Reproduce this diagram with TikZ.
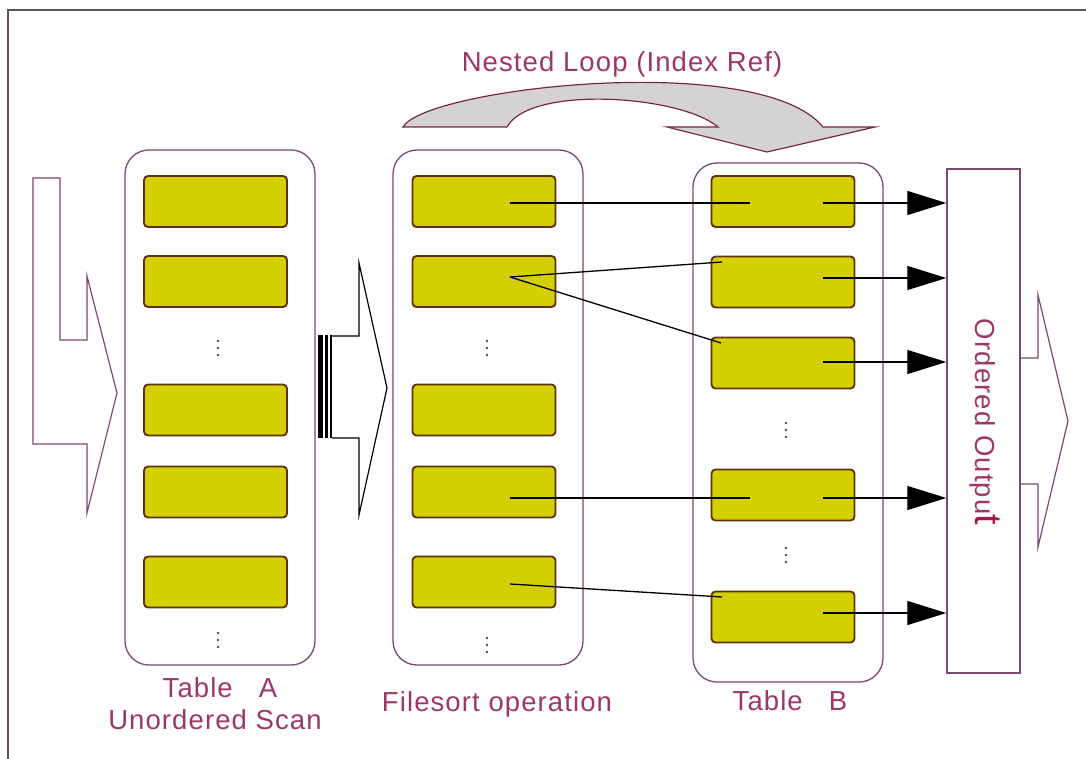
\documentclass[tikz,border=0pt]{standalone}
\usepackage{fontspec}
\setmainfont{Liberation Sans}[LetterSpace=4]
\usetikzlibrary{arrows.meta}
\definecolor{txt}{RGB}{155,55,105}
\definecolor{cont}{RGB}{125,70,115}
\definecolor{framecol}{RGB}{100,80,85}
\definecolor{yfill}{RGB}{212,208,0}
\definecolor{ybord}{RGB}{95,50,10}
\definecolor{loopfill}{RGB}{212,210,212}
\definecolor{loopbord}{RGB}{120,40,70}
\definecolor{tcol}{RGB}{170,20,80}
\begin{document}
\begin{tikzpicture}[x=1pt,y=-1pt,
  container/.style={draw=cont, line width=1.3pt, rounded corners=24pt, inner sep=0pt},
  ybox/.style={draw=ybord, fill=yfill, line width=1.9pt, rounded corners=4pt,
    minimum width=143pt, minimum height=51pt, inner sep=0pt},
  lbl/.style={text=txt, font=\fontsize{27.5}{30}\selectfont, inner sep=0pt},
  dotmark/.style={fill=black!70, draw=none},
  link/.style={draw=black, line width=1.3pt},
  outarrow/.style={link, -{Triangle[length=39pt,width=24pt]}},
  bigarrow/.style={line width=1.2pt, line join=miter}
]
\useasboundingbox (0,0) rectangle (1086,759);
% frame
\draw[framecol, line width=2.2pt] (8,759) -- (8,10) -- (1086,10);

% input arrow
\draw[bigarrow, draw=cont] (33,178) -- (60,178) -- (60,340) -- (87,340) -- (87,276)
  -- (117,393) -- (87,513) -- (87,444) -- (33,444) -- cycle;

% containers
\node[container, minimum width=190pt, minimum height=515pt] (ta) at (220,407.5) {};
\node[container, minimum width=190pt, minimum height=515pt] (fs) at (488,407.5) {};
\node[container, minimum width=190pt, minimum height=519pt] (tb) at (788,422.5) {};

% middle arrow
\fill[black] (318,335) rectangle (322.5,438);
\fill[black] (324.5,335) rectangle (327.5,438);
\fill[black] (329.5,335) rectangle (332,438);
\draw[bigarrow, draw=black] (332,336) -- (359,336) -- (359,263) -- (387,388)
  -- (359,515) -- (359,438) -- (332,438);

% Table A boxes
\node[ybox] (a1) at (215.5,201.5) {};
\node[ybox] (a2) at (215.5,281.5) {};
\node[ybox] (a3) at (215.5,410) {};
\node[ybox] (a4) at (215.5,492) {};
\node[ybox] (a5) at (215.5,582) {};
\foreach \yy in {341,348,355} \fill[dotmark] (218,\yy) circle (1.4);
\foreach \yy in {633,640,647} \fill[dotmark] (218,\yy) circle (1.4);

% Filesort boxes
\node[ybox] (f1) at (484,201.5) {};
\node[ybox] (f2) at (484,281.5) {};
\node[ybox] (f3) at (484,410) {};
\node[ybox] (f4) at (484,492) {};
\node[ybox] (f5) at (484,582) {};
\foreach \yy in {341,348,355} \fill[dotmark] (487,\yy) circle (1.4);
\foreach \yy in {638,645,652} \fill[dotmark] (487,\yy) circle (1.4);

% Table B boxes
\node[ybox] (b1) at (783,201.5) {};
\node[ybox] (b2) at (783,282) {};
\node[ybox] (b3) at (783,363) {};
\node[ybox] (b4) at (783,495) {};
\node[ybox] (b5) at (783,617) {};
\foreach \yy in {423,430,437} \fill[dotmark] (786,\yy) circle (1.4);
\foreach \yy in {548,555,562} \fill[dotmark] (786,\yy) circle (1.4);

% output box
\node[draw=cont, line width=1.4pt, minimum width=73pt, minimum height=504pt, inner sep=0pt] (out) at (983.5,421) {};
\draw[bigarrow, draw=cont] (1020,358) -- (1038,358) -- (1038,295) -- (1068,421)
  -- (1038,547) -- (1038,484) -- (1020,484);
\node[lbl, rotate=-90] (outlbl) at (985,422) {Ordered Outpu{\fontsize{38}{38}\selectfont\color{tcol}t}};

% link anchor coordinates
\coordinate (f1s) at (510,203);
\coordinate (f2s) at (510,277);
\coordinate (f4s) at (510,498);
\coordinate (f5s) at (510,584);
\coordinate (b1e) at (750,203);
\coordinate (b2e) at (722,262);
\coordinate (b3e) at (721,343);
\coordinate (b4e) at (750,498);
\coordinate (b5e) at (722,597);
\coordinate (b1s) at (823,203);
\coordinate (b2s) at (823,278);
\coordinate (b3s) at (823,362);
\coordinate (b4s) at (823,498);
\coordinate (b5s) at (823,613);

\draw[link] (f1s) -- (b1e);
\draw[link] (f2s) -- (b2e);
\draw[link] (f2s) -- (b3e);
\draw[link] (f4s) -- (b4e);
\draw[link] (f5s) -- (b5e);

\draw[outarrow] (b1s) -- (b1s -| out.west);
\draw[outarrow] (b2s) -- (b2s -| out.west);
\draw[outarrow] (b3s) -- (b3s -| out.west);
\draw[outarrow] (b4s) -- (b4s -| out.west);
\draw[outarrow] (b5s) -- (b5s -| out.west);

% nested loop curved arrow
\draw[fill=loopfill, draw=loopbord, line width=1.2pt, line join=miter]
  (403,127) .. controls (425,88) and (760,50) .. (823,127)
  -- (875,127) -- (767,152) -- (667,127) -- (718,127)
  .. controls (680,95) and (530,85) .. (507,127) -- cycle;
\node[lbl] (title) at (622,64) {Nested Loop (Index Ref)};

% labels
\node[lbl] (talbl) at (220,688) {Table~~~A};
\node[lbl] (ta2lbl) at (215,720) {Unordered Scan};
\node[lbl] (fslbl) at (497,704) {Filesort operation};
\node[lbl] (tblbl) at (790,701) {Table~~~B};
\end{tikzpicture}
\end{document}
